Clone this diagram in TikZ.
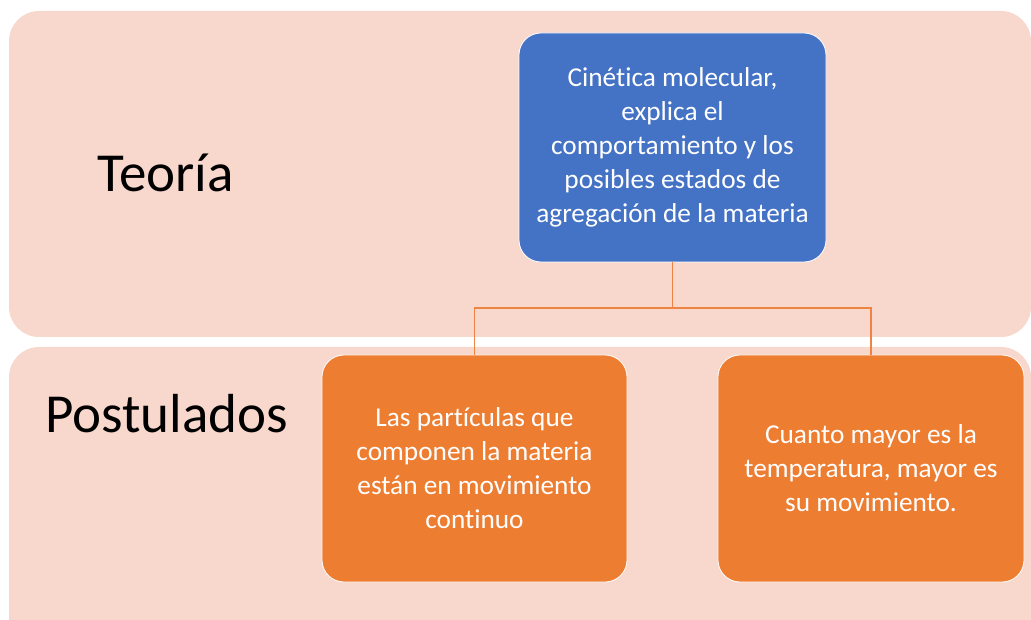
\documentclass[tikz,border=0pt]{standalone}
\usepackage{fontspec}
\setmainfont{Carlito}[RawFeature={-liga}]
\definecolor{band}{HTML}{F8D8CD}
\definecolor{boxblue}{HTML}{4472C4}
\definecolor{boxorange}{HTML}{ED7D31}
\definecolor{linkorange}{HTML}{EE8443}
\begin{document}
\begin{tikzpicture}[x=1pt,y=-1pt,
  bandbox/.style={fill=band, draw=none, rounded corners=30pt},
  blockbox/.style={draw=white, line width=0.8pt, rounded corners=22pt, inner sep=0pt,
    text=white, align=center, font=\fontsize{27.3}{34}\selectfont},
  label/.style={anchor=base west, inner sep=0pt, font=\fontsize{55}{60}\selectfont},
  link/.style={draw=linkorange, line width=1.4pt}]
\useasboundingbox (0,0) rectangle (1031,620);
\begin{scope}
\clip (0,0) rectangle (1031,620);
\fill[bandbox] (9,11) rectangle (1031,337);
\fill[bandbox] (9,347) rectangle (1031,660);
\end{scope}
\node[label] (teoria) at (97,192) {Teoría};
\node[label] (postulados) at (45,432) {Postulados};
\node[blockbox, fill=boxblue, minimum width=307pt, minimum height=229pt] (cin) at (672.5,147.5)
  {Cinética molecular,\\explica el\\comportamiento y los\\posibles estados de\\agregación de la materia};
\node[blockbox, fill=boxorange, minimum width=305pt, minimum height=227pt] (p1) at (474.5,468.5)
  {Las partículas que\\componen la materia\\están en movimiento\\continuo};
\node[blockbox, fill=boxorange, minimum width=306pt, minimum height=227pt] (p2) at (871,468.5)
  {Cuanto mayor es la\\temperatura, mayor es\\su movimiento.};
\coordinate (junc) at (672.5,308);
\draw[link] (cin.south) -- (junc);
\draw[link] (junc) -| (p1.north);
\draw[link] (junc) -| (p2.north);
\end{tikzpicture}
\end{document}
